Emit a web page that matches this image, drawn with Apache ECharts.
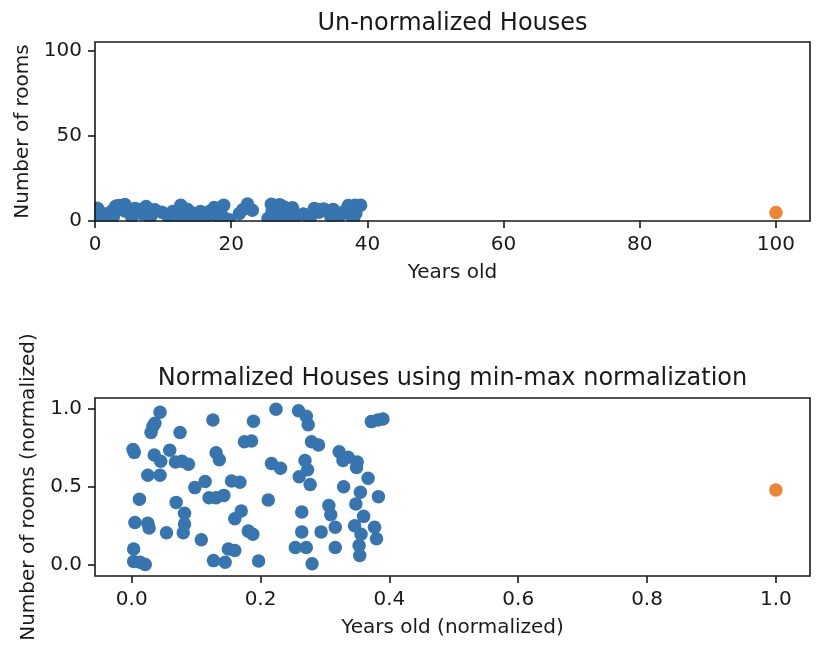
<!DOCTYPE html>
<html>
<head>
<meta charset="utf-8">
<script src="https://cdn.jsdelivr.net/npm/echarts@6/dist/echarts.min.js"></script>
<style>
html,body{margin:0;padding:0;background:#fff;}
#chart{width:834px;height:656px;}
</style>
</head>
<body>
<div id="chart"></div>
<script>
// ---- Data ----
// Un-normalized houses
const years = [0.2,0.4,0.3,0.3,1.3,2.1,
  0.5,1.2,2.5,2.7,2.5,4.4,3.0,3.3,3.6,4.4,3.5,4.5,5.9,6.8,7.8,8.8,5.4,7.5,6.9,8.2,8.2,8.0,9.8,10.8,11.4,12.0,12.6,13.1,14.3,12.7,13.1,13.6,14.5,15.0,16.0,15.5,16.8,16.0,17.0,17.5,18.6,18.1,18.8,18.9,19.7,
  21.2,21.7,23.1,22.4,25.4,25.9,27.1,27.4,26.9,27.3,26.0,27.7,26.4,26.4,27.1,28.0,27.9,29.0,29.4,30.6,30.9,31.6,31.6,32.2,32.8,33.6,35.0,34.9,32.9,35.5,34.8,36.7,34.6,35.6,35.3,35.4,36.0,37.7,38.0,38.3,37.2,38.2,39.0];
const rooms = [7.5,7.3,1.4,0.7,0.6,0.5,
  3.0,4.4,3.0,2.7,5.9,5.9,8.5,8.9,9.1,9.7,7.1,6.8,7.4,6.7,6.8,6.6,2.4,8.5,4.3,3.6,2.9,2.4,5.2,2.0,5.5,4.5,9.2,4.5,4.7,0.7,7.3,6.8,0.6,1.4,1.3,5.5,5.5,3.3,3.7,7.9,8.0,2.5,2.3,9.2,0.7,
  4.4,6.6,6.3,9.9,1.5,9.8,9.5,9.0,6.8,6.2,5.8,5.3,3.7,2.5,1.5,0.5,7.9,7.7,2.5,4.1,3.5,2.8,1.5,7.3,6.8,7.0,6.7,6.4,5.2,4.9,4.2,5.7,2.9,2.3,1.7,1.0,3.4,2.8,2.1,4.6,9.1,9.2,9.3];
const outlierYears = [100];
const outlierRooms = [5];

// Normalized houses (min-max)
const yearsNorm = [0.002,0.004,0.003,0.003,0.013,0.021,
  0.005,0.012,0.025,0.027,0.025,0.044,0.030,0.033,0.036,0.044,0.035,0.045,0.059,0.068,0.078,0.088,0.054,0.075,0.069,0.082,0.082,0.080,0.098,0.108,0.114,0.120,0.126,0.131,0.143,0.127,0.131,0.136,0.145,0.150,0.160,0.155,0.168,0.160,0.170,0.175,0.186,0.181,0.188,0.189,0.197,
  0.212,0.217,0.231,0.224,0.254,0.259,0.271,0.274,0.269,0.273,0.260,0.277,0.264,0.264,0.271,0.280,0.279,0.290,0.294,0.306,0.309,0.316,0.316,0.322,0.328,0.336,0.350,0.349,0.329,0.355,0.348,0.367,0.346,0.356,0.353,0.354,0.360,0.377,0.380,0.383,0.372,0.382,0.390];
const roomsNorm = [0.740,0.722,0.100,0.020,0.015,0.000,
  0.270,0.420,0.265,0.235,0.575,0.575,0.850,0.890,0.910,0.980,0.705,0.665,0.735,0.660,0.665,0.645,0.205,0.850,0.400,0.330,0.260,0.205,0.495,0.160,0.535,0.430,0.930,0.430,0.445,0.025,0.720,0.675,0.015,0.100,0.090,0.537,0.530,0.295,0.345,0.790,0.795,0.215,0.195,0.922,0.022,
  0.415,0.650,0.620,1.000,0.110,0.990,0.955,0.900,0.670,0.610,0.565,0.515,0.338,0.210,0.110,0.005,0.790,0.770,0.210,0.380,0.320,0.240,0.110,0.726,0.670,0.690,0.660,0.625,0.500,0.465,0.390,0.555,0.250,0.195,0.123,0.058,0.310,0.240,0.166,0.437,0.920,0.930,0.937];
const outlierYearsNorm = [1.0];
const outlierRoomsNorm = [0.48];

// Tick labels
const xTicksTop = [0, 20, 40, 60, 80, 100];
const yTicksTop = [0, 50, 100];
const xTicksBottom = [0.0, 0.2, 0.4, 0.6, 0.8, 1.0];
const yTicksBottom = [0.0, 0.5, 1.0];

// ---- Styling ----
const FONT = 'DejaVu Sans';
const INK = '#1a1a1a';
const BLUE = '#3775b0';
const ORANGE = '#ee8533';
const MARK = 13.5;

function pairs(xs, ys) { return xs.map((x, i) => [x, ys[i]]); }

function xAxisCfg(grid, min, max, ticks, name, fmt) {
  return {
    gridIndex: grid, type: 'value', min: min, max: max, z: 10, position: 'bottom',
    name: name, nameLocation: 'middle', nameGap: 42,
    nameTextStyle: { fontFamily: FONT, fontSize: 20, color: INK },
    axisLine: { show: false, onZero: false },
    splitLine: { show: false },
    axisTick: { show: true, length: 7, customValues: ticks, lineStyle: { color: INK, width: 1.6 } },
    axisLabel: { customValues: ticks, margin: 14, fontFamily: FONT, fontSize: 20, color: INK, formatter: fmt }
  };
}
function yAxisCfg(grid, min, max, ticks, name, gap, fmt) {
  return {
    gridIndex: grid, type: 'value', min: min, max: max, z: 10, position: 'left',
    name: name, nameLocation: 'middle', nameGap: gap,
    nameTextStyle: { fontFamily: FONT, fontSize: 20, color: INK },
    axisLine: { show: false, onZero: false },
    splitLine: { show: false },
    axisTick: { show: true, length: 7, customValues: ticks, lineStyle: { color: INK, width: 1.6 } },
    axisLabel: { customValues: ticks, margin: 13, fontFamily: FONT, fontSize: 20, color: INK, formatter: fmt }
  };
}

const fmtInt = v => String(Math.round(v));
const fmt1 = v => Number(v).toFixed(1);

const chart = echarts.init(document.getElementById('chart'), null, { renderer: 'canvas' });
const option = {
  animation: false,
  backgroundColor: '#ffffff',
  title: [
    { text: 'Un-normalized Houses', left: 452.5, top: 12, textAlign: 'center', padding: 0,
      textStyle: { fontFamily: FONT, fontSize: 24, fontWeight: 'normal', color: INK } },
    { text: 'Normalized Houses using min-max normalization', left: 452.5, top: 367, textAlign: 'center', padding: 0,
      textStyle: { fontFamily: FONT, fontSize: 24, fontWeight: 'normal', color: INK } }
  ],
  grid: [
    { left: 95, top: 42, width: 715, height: 179, show: true, borderColor: INK, borderWidth: 1.6, z: 10 },
    { left: 95, top: 398, width: 715, height: 178, show: true, borderColor: INK, borderWidth: 1.6, z: 10 }
  ],
  xAxis: [
    xAxisCfg(0, 0, 105, xTicksTop, 'Years old', fmtInt),
    xAxisCfg(1, -0.057, 1.053, xTicksBottom, 'Years old (normalized)', fmt1)
  ],
  yAxis: [
    yAxisCfg(0, 0, 105, yTicksTop, 'Number of rooms', 62, fmtInt),
    yAxisCfg(1, -0.074, 1.072, yTicksBottom, 'Number of rooms (normalized)', 54, fmt1)
  ],
  series: [
    { type: 'scatter', xAxisIndex: 0, yAxisIndex: 0, symbolSize: MARK, z: 2,
      itemStyle: { color: BLUE, opacity: 1 }, data: pairs(years, rooms) },
    { type: 'scatter', xAxisIndex: 0, yAxisIndex: 0, symbolSize: MARK, z: 2,
      itemStyle: { color: ORANGE, opacity: 1 }, data: pairs(outlierYears, outlierRooms) },
    { type: 'scatter', xAxisIndex: 1, yAxisIndex: 1, symbolSize: MARK, z: 2,
      itemStyle: { color: BLUE, opacity: 1 }, data: pairs(yearsNorm, roomsNorm) },
    { type: 'scatter', xAxisIndex: 1, yAxisIndex: 1, symbolSize: MARK, z: 2,
      itemStyle: { color: ORANGE, opacity: 1 }, data: pairs(outlierYearsNorm, outlierRoomsNorm) }
  ],
  // white masks that clip marker overflow outside the top plot area (like matplotlib's clipping)
  graphic: [
    { type: 'rect', z: 5, silent: true, shape: { x: 80, y: 221.8, width: 740, height: 9 }, style: { fill: '#fff' } },
    { type: 'rect', z: 5, silent: true, shape: { x: 84, y: 35, width: 10.2, height: 196 }, style: { fill: '#fff' } }
  ]
};
chart.setOption(option);
</script>
</body>
</html>
